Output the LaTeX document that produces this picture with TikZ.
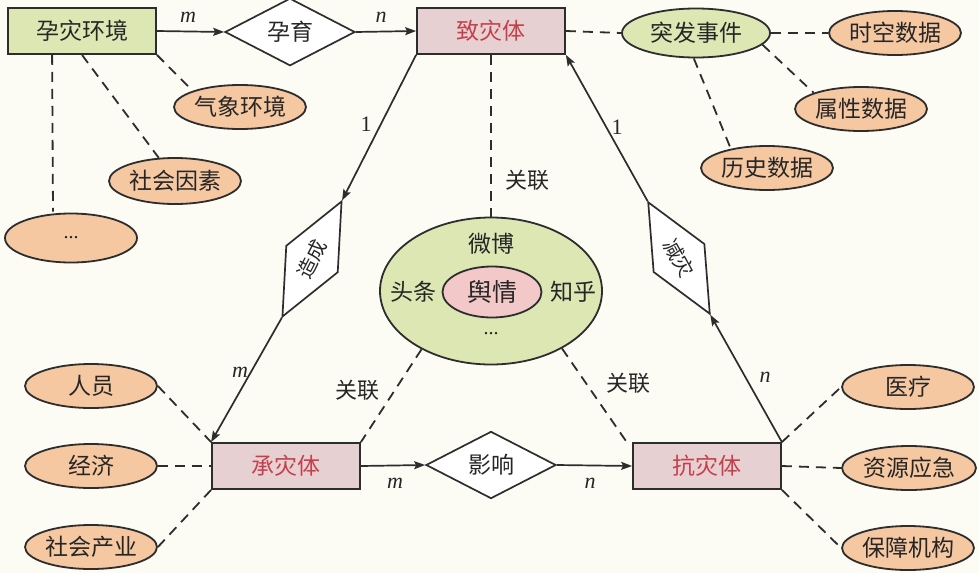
\documentclass[tikz,border=0pt]{standalone}
\usepackage{fontspec}
\setmainfont{Liberation Serif}
\newfontfamily\cjk{Noto Sans CJK SC}
\usetikzlibrary{shapes.geometric,arrows.meta}
\definecolor{bg}{RGB}{252,251,244}
\definecolor{gfill}{RGB}{221,231,180}
\definecolor{pfill}{RGB}{230,208,210}
\definecolor{ofill}{RGB}{246,200,162}
\definecolor{infill}{RGB}{243,200,200}
\definecolor{redtxt}{RGB}{196,64,76}
\definecolor{ln}{RGB}{45,45,45}
\begin{document}
\begin{tikzpicture}[x=1pt,y=-1pt,
  every node/.style={font=\cjk\fontsize{23}{27}\selectfont, text=black!85},
  ent/.style={draw=ln, line width=1.8pt, minimum width=148pt, minimum height=46pt, inner sep=0pt},
  gbox/.style={ent, fill=gfill},
  pbox/.style={ent, fill=pfill, text=redtxt},
  attr/.style={ellipse, draw=ln, line width=1.8pt, fill=ofill, minimum width=132pt, minimum height=44pt, inner sep=0pt},
  rel/.style={diamond, draw=ln, line width=1.7pt, fill=white, minimum width=130pt, minimum height=54pt, inner sep=0pt},
  conn/.style={draw=ln, line width=1.7pt, -{Stealth[length=11pt,width=8pt,inset=2pt]}},
  dsh/.style={draw=ln, line width=1.8pt, dash pattern=on 10pt off 7pt},
  card/.style={font=\rmfamily\itshape\fontsize{22}{24}\selectfont},
  num/.style={font=\rmfamily\fontsize{22}{24}\selectfont},
  lbl/.style={font=\cjk\fontsize{22}{26}\selectfont},
  dotf/.style={font=\rmfamily\fontsize{20}{24}\selectfont},
]
\fill[bg] (0,0) rectangle (979,573);
\useasboundingbox (0,0) rectangle (979,573);

% top row
\node[gbox] (yz) at (82,31) {孕灾环境};
\node[rel] (yy) at (290,32) {孕育};
\node[pbox] (zhi) at (491,31) {致灾体};
\node[attr, fill=gfill, minimum width=148pt, minimum height=49pt] (tf) at (696,33) {突发事件};
\node[attr] (sk) at (895,33) {时空数据};
\node[attr] (sx) at (861,109) {属性数据};
\node[attr] (ls) at (767,168) {历史数据};
\node[attr] (qx) at (240,107) {气象环境};
\node[attr, minimum height=46pt] (sh) at (175,181) {社会因素};
\node[attr, minimum height=49pt, dotf] (dots) at (71,238) {...};

\draw[conn] (yz.east) -- (yy.west);
\node[card] (m1) at (188,17) {m};
\draw[conn] (yy.east) -- (zhi.west);
\node[card] (n1) at (381,17) {n};

\draw[dsh] (zhi.east) -- (tf.west);
\draw[dsh] (tf.east) -- (sk.west);
\draw[dsh] (tf.-10) -- (sx.north west);
\draw[dsh] (tf.-95) -- (ls.152);
\draw[dsh] (yz.south east) -- (qx.north west);
\draw[dsh] (yz.south) -- (sh.125);
\draw[dsh] ([xshift=45pt]yz.south west) -- ([xshift=-18pt,yshift=1pt]dots.north);

% central ellipse
\node[ellipse, draw=ln, line width=1.8pt, fill=gfill, minimum width=222pt, minimum height=147pt] (outer) at (491,291) {};
\node[ellipse, draw=ln, line width=1.8pt, fill=infill, minimum width=99pt, minimum height=51pt, inner sep=0pt, font=\cjk\fontsize{25}{28}\selectfont] (inner) at (492,292) {舆情};
\node (wb) at (491,244) {微博};
\node (tt) at (413,292) {头条};
\node (zh) at (573,292) {知乎};
\node[dotf] (od) at (491,334) {...};

\draw[dsh] (zhi.south) -- (outer.north);
\node[lbl] (gl1) at (527,180) {关联};

% bottom row
\node[pbox] (cheng) at (286,466) {承灾体};
\node[pbox] (kang) at (707,466) {抗灾体};
\node[rel] (yx) at (491,465) {影响};
\draw[conn] (cheng.east) -- (yx.west);
\node[card] (m3) at (395,483) {m};
\draw[conn] (yx.east) -- (kang.west);
\node[card] (n3) at (590,483) {n};

\draw[dsh] (outer.220) -- (cheng.north east);
\node[lbl] (gl2) at (357,390) {关联};
\draw[dsh] (outer.321) -- ([xshift=-4pt,yshift=-2pt]kang.north west);
\node[lbl] (gl3) at (628,383) {关联};

\node[attr] (ry) at (91,386) {人员};
\node[attr] (jj) at (91,466) {经济};
\node[attr] (sc) at (91,547) {社会产业};
\draw[dsh] (ry.east) -- (cheng.north west);
\draw[dsh] (jj.east) -- (cheng.west);
\draw[dsh] (sc.east) -- (cheng.south west);

\node[attr] (yl) at (908,387) {医疗};
\node[attr, minimum width=134pt] (zy) at (909,468) {资源应急};
\node[attr] (bz) at (908,548) {保障机构};
\draw[dsh] (kang.north east) -- (yl.west);
\draw[dsh] (kang.east) -- (zy.west);
\draw[dsh] (kang.south east) -- (bz.west);

% side relations
\node[rel, rotate=62.8, font=\cjk\fontsize{20}{24}\selectfont] (zc) at (312,259) {造成};
\draw[conn] (zhi.south west) -- (zc.east);
\draw[conn] (zc.west) -- (cheng.north west);
\node[num] (one1) at (366,124) {1};
\node[card] (m2) at (240,372) {m};

\node[rel, rotate=-61.1, minimum width=128pt, font=\cjk\fontsize{20}{24}\selectfont] (jz) at (679,258) {减灾};
\draw[conn] (kang.north east) -- (jz.east);
\draw[conn] (jz.west) -- (zhi.south east);
\node[num] (one2) at (617,127) {1};
\node[card] (n2) at (765,377) {n};
\end{tikzpicture}
\end{document}
